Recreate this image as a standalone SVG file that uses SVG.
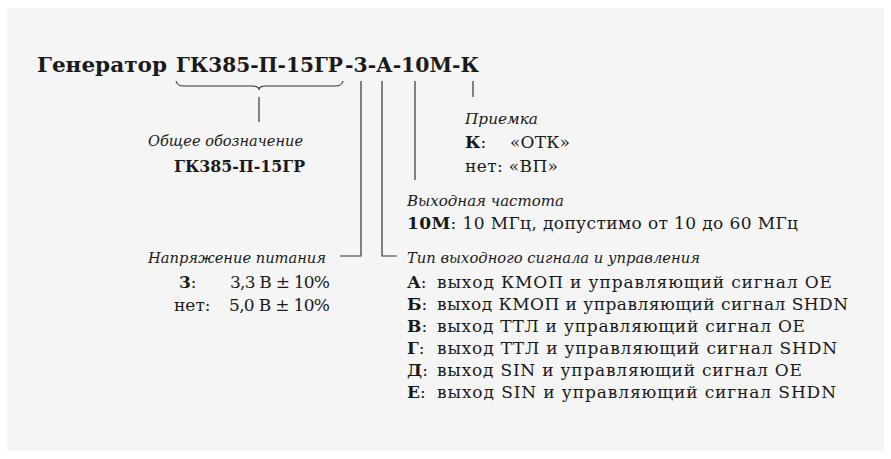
<svg xmlns="http://www.w3.org/2000/svg" width="891" height="459" viewBox="0 0 891 459">
<style>
text{font-family:"DejaVu Serif","Liberation Serif",serif;fill:#1a1a1a;font-size:17px}
.t{font-size:21px;font-weight:bold}
.i{font-style:italic;font-size:15.5px}
.b{font-weight:bold}
.bb{font-weight:bold;font-size:16px}
.ln{stroke:#333;stroke-width:1.2;fill:none}
</style>
<rect x="0" y="0" width="891" height="459" fill="#ffffff"/>
<rect x="7" y="8" width="877" height="443" fill="#f5f5f5"/>
<g id="title">
<text class="t" x="37" y="72" textLength="130" lengthAdjust="spacingAndGlyphs">Генератор</text>
<text class="t" x="176" y="72" textLength="167" lengthAdjust="spacingAndGlyphs">ГК385-П-15ГР</text>
<text class="t" x="345" y="72" textLength="134" lengthAdjust="spacingAndGlyphs">-3-А-10М-К</text>
</g>
<g id="connectors">
<path class="ln" d="M176,81 Q177,86 184,86 L252,86 Q258,86 259,89 Q260,86 266,86 L335,86 Q342,86 343,81"/>
<path class="ln" d="M259,97 V122"/>
<path class="ln" d="M361,81 V256 H340"/>
<path class="ln" d="M382,81 V256 H397"/>
<path class="ln" d="M415,81 V180"/>
<path class="ln" d="M473,81 V97"/>
</g>
<g id="common">
<text class="i" x="148" y="146" textLength="155" lengthAdjust="spacingAndGlyphs">Общее обозначение</text>
<text class="bb" x="174" y="172" textLength="131" lengthAdjust="spacingAndGlyphs">ГК385-П-15ГР</text>
</g>
<g id="acceptance">
<text class="i" x="465" y="124" textLength="73" lengthAdjust="spacingAndGlyphs">Приемка</text>
<text x="465" y="148"><tspan class="b">К</tspan>:</text>
<text x="510" y="148" textLength="60">«ОТК»</text>
<text x="465" y="172" textLength="93">нет: «ВП»</text>
</g>
<g id="frequency">
<text class="i" x="407" y="206" textLength="157" lengthAdjust="spacingAndGlyphs">Выходная частота</text>
<text x="407" y="229" textLength="391"><tspan class="b">10М</tspan>: 10 МГц, допустимо от 10 до 60 МГц</text>
</g>
<g id="voltage">
<text class="i" x="148" y="263" textLength="178" lengthAdjust="spacingAndGlyphs">Напряжение питания</text>
<text x="179" y="288"><tspan class="b">3</tspan>:</text>
<text x="230" y="288" textLength="100">3,3 В ± 10%</text>
<text x="174" y="311">нет:</text>
<text x="229" y="311" textLength="101">5,0 В ± 10%</text>
</g>
<g id="signal">
<text class="i" x="407" y="263" textLength="293" lengthAdjust="spacingAndGlyphs">Тип выходного сигнала и управления</text>
<text x="407" y="288"><tspan class="b">А</tspan>:</text>
<text x="437" y="288" textLength="395">выход КМОП и управляющий сигнал ОЕ</text>
<text x="407" y="310"><tspan class="b">Б</tspan>:</text>
<text x="437" y="310" textLength="411">выход КМОП и управляющий сигнал SHDN</text>
<text x="407" y="332"><tspan class="b">В</tspan>:</text>
<text x="437" y="332" textLength="368">выход ТТЛ и управляющий сигнал ОЕ</text>
<text x="407" y="354"><tspan class="b">Г</tspan>:</text>
<text x="437" y="354" textLength="400">выход ТТЛ и управляющий сигнал SHDN</text>
<text x="407" y="376"><tspan class="b">Д</tspan>:</text>
<text x="437" y="376" textLength="365">выход SIN и управляющий сигнал ОЕ</text>
<text x="407" y="398"><tspan class="b">Е</tspan>:</text>
<text x="437" y="398" textLength="399">выход SIN и управляющий сигнал SHDN</text>
</g>
</svg>
